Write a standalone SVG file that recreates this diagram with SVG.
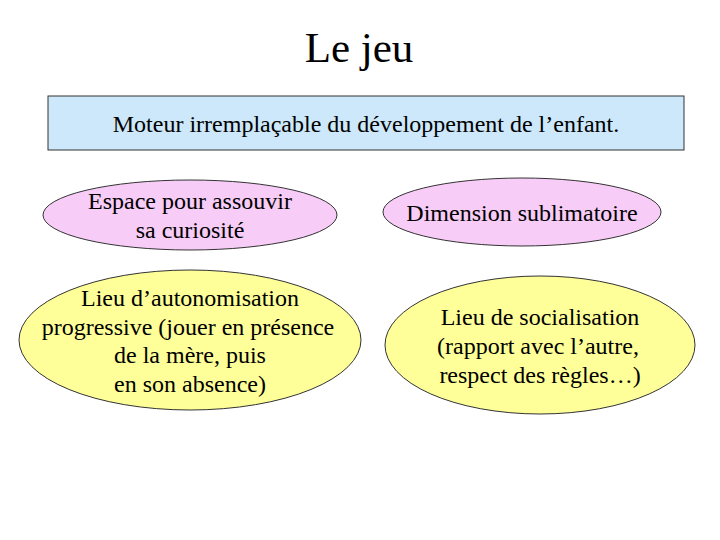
<svg xmlns="http://www.w3.org/2000/svg" width="720" height="540" viewBox="0 0 720 540">
<style>
text{font-family:"Liberation Serif","Times New Roman",serif;fill:#000;text-anchor:middle}
.node{stroke:#333;stroke-width:1}
.pink{fill:#F7CCF7}
.yellow{fill:#FFFF99}
.t{font-size:24px}
</style>
<rect width="720" height="540" fill="#fff"/>
<g id="title"><text x="359" y="62" style="font-size:43px">Le jeu</text></g>
<g id="main">
<rect class="node" x="48" y="96" width="636" height="54" fill="#CCE8FA"/>
<text class="t" x="366" y="132">Moteur irremplaçable du développement de l’enfant.</text>
</g>
<g id="espace">
<ellipse class="node pink" cx="190" cy="215" rx="147" ry="35"/>
<text class="t" x="190" y="209">Espace pour assouvir</text>
<text class="t" x="190" y="238">sa curiosité</text>
</g>
<g id="dimension">
<ellipse class="node pink" cx="522" cy="212" rx="139" ry="34"/>
<text class="t" x="522" y="221">Dimension sublimatoire</text>
</g>
<g id="autonomisation">
<ellipse class="node yellow" cx="190" cy="340" rx="171" ry="70"/>
<text class="t" x="190" y="306">Lieu d’autonomisation</text>
<text class="t" x="188" y="335">progressive (jouer en présence</text>
<text class="t" x="190" y="363">de la mère, puis</text>
<text class="t" x="190" y="392">en son absence)</text>
</g>
<g id="socialisation">
<ellipse class="node yellow" cx="540" cy="345" rx="155" ry="69"/>
<text class="t" x="540" y="325">Lieu de socialisation</text>
<text class="t" x="538" y="354">(rapport avec l’autre,</text>
<text class="t" x="540" y="383">respect des règles…)</text>
</g>
<g id="connectors"></g>
</svg>
